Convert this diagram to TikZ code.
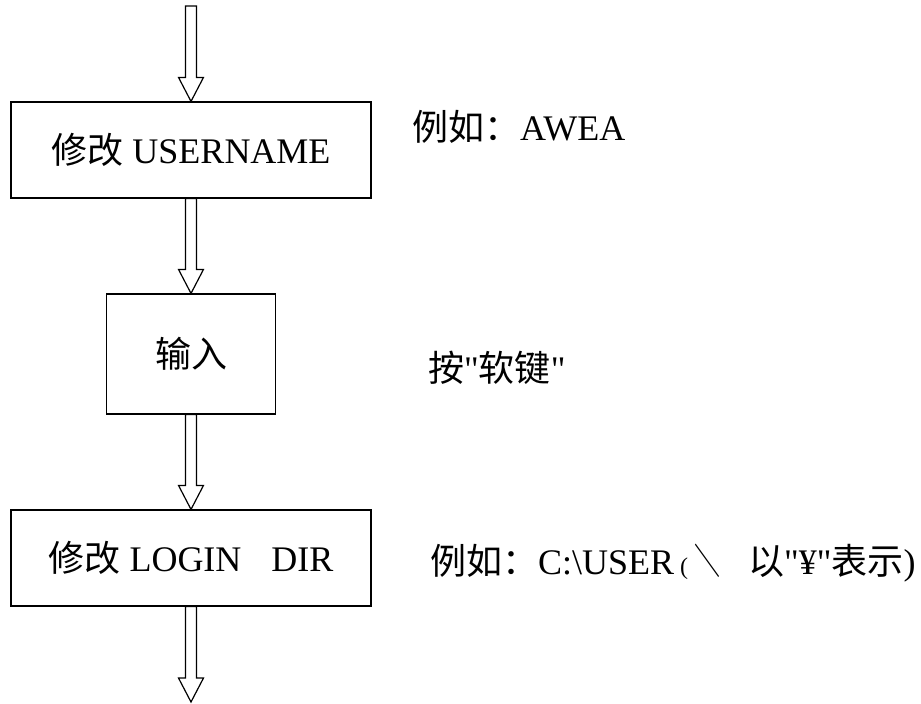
\documentclass[tikz,border=0pt]{standalone}
\usepackage{graphicx}
\usepackage{fontspec}
\setmainfont[Ligatures=TeXOff]{Liberation Serif}
\newfontfamily\cjk{Noto Sans CJK SC}
\usetikzlibrary{calc}
\newcommand\dq{\symbol{34}}
\tikzset{
  flowbox/.style={draw, line width=1.2pt, inner sep=0pt, align=center},
  blockarrow/.style={draw, line width=1.2pt, line join=miter, fill=white},
  note/.style={anchor=west, inner sep=0pt},
}
\newcommand\hollowarrow[2]{%
  \path[blockarrow] let \p1=(#1), \p2=(#2) in
    (\x1-5.5pt,\y1) -- (\x1-5.5pt,\y2+24pt) -- (\x1-12.5pt,\y2+24pt) --
    (\x1,\y2) -- (\x1+12.5pt,\y2+24pt) -- (\x1+5.5pt,\y2+24pt) --
    (\x1+5.5pt,\y1) -- cycle;}
\begin{document}
\begin{tikzpicture}[x=1pt,y=-1pt,font=\fontsize{36}{40}\selectfont]
\useasboundingbox (0,0) rectangle (921,704);
\node[flowbox, minimum width=360pt, minimum height=96pt] (b1) at (191,150) {{\cjk 修改} USERNAME};
\node[flowbox, minimum width=169pt, minimum height=120pt] (b2) at (191,354) {{\cjk 输入}};
\node[flowbox, minimum width=360pt, minimum height=96pt] (b3) at (191,558) {{\cjk 修改} LOGIN\hspace{30pt}DIR};
\coordinate (top) at (191,6);
\coordinate (bot) at (191,702);
\hollowarrow{top}{b1.north}
\hollowarrow{b1.south}{b2.north}
\hollowarrow{b2.south}{b3.north}
\hollowarrow{b3.south}{bot}
\node[note] (n1) at (412,127) {{\cjk 例如：}AWEA};
\node[note] (n2) at (428,368) {{\cjk 按}\dq{\cjk 软键}\dq};
\node[note] (n3) at (430,563) {{\cjk 例如：}C:\textbackslash USER\hspace{6pt}{\fontsize{24}{28}\selectfont(}\hspace{6pt}\scalebox{0.72}[1]{\cjk ＼}\hspace{28pt}{\cjk 以}\dq¥\dq{\cjk 表示})};
\end{tikzpicture}
\end{document}
